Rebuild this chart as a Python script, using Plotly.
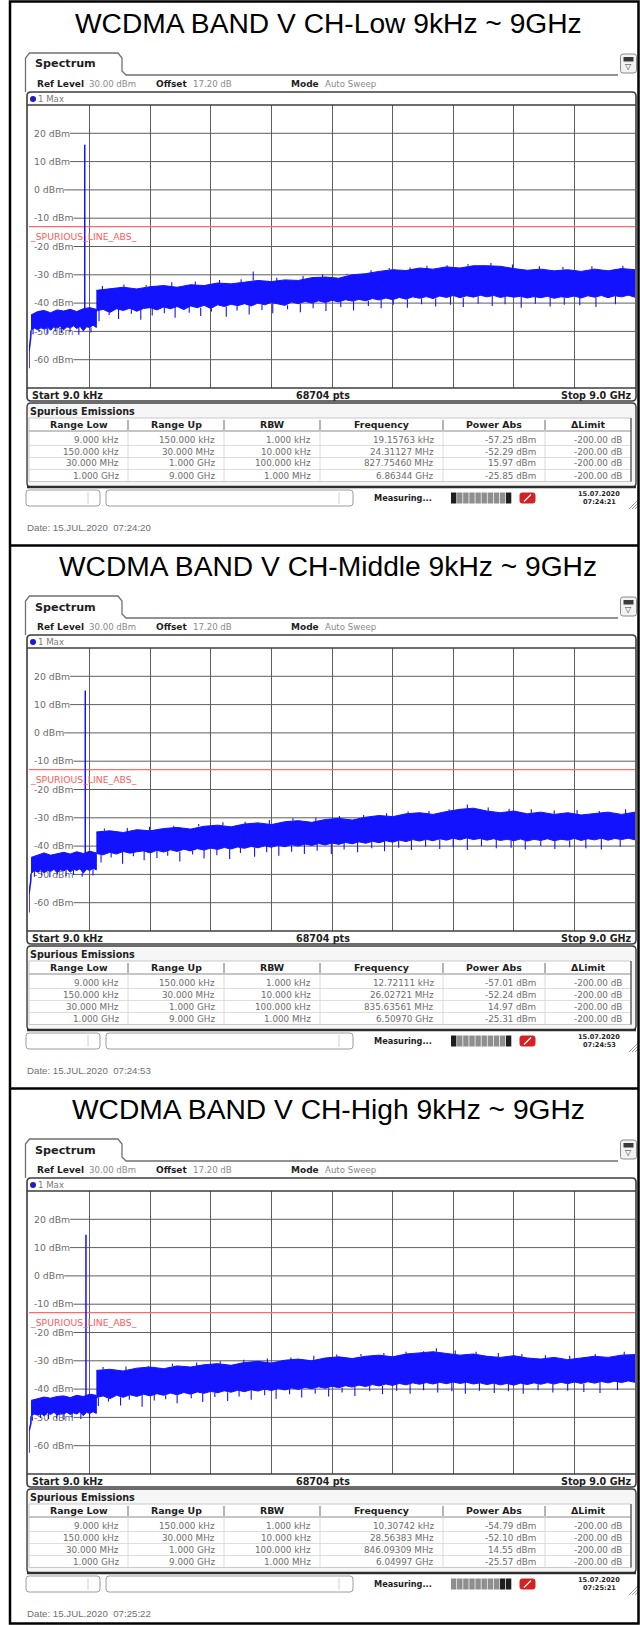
import plotly.graph_objects as go

W, H = 640, 1625

# ---------------- values ----------------
panel_titles = ["WCDMA BAND V CH-Low 9kHz ~ 9GHz",
                "WCDMA BAND V CH-Middle 9kHz ~ 9GHz",
                "WCDMA BAND V CH-High 9kHz ~ 9GHz"]

start_ghz = 0.000009
stop_ghz = 9.0
ref_level_dbm = 30.0
bottom_dbm = -70.0
y_tick_dbm = [20, 10, 0, -10, -20, -30, -40, -50, -60]
limit_dbm = -13.0
limit_label = "_SPURIOUS_LINE_ABS_"

ref_level_text = "30.00 dBm"
offset_text = "17.20 dB"
mode_text = "Auto Sweep"
trace_label = "1 Max"
start_label = "Start 9.0 kHz"
stop_label = "Stop 9.0 GHz"
points_label = "68704 pts"

table_headers = ["Range Low", "Range Up", "RBW", "Frequency", "Power Abs", "\u0394Limit"]
range_low = ["9.000 kHz", "150.000 kHz", "30.000 MHz", "1.000 GHz"]
range_up = ["150.000 kHz", "30.000 MHz", "1.000 GHz", "9.000 GHz"]
rbw_values = ["1.000 kHz", "10.000 kHz", "100.000 kHz", "1.000 MHz"]
delta_limit = ["-200.00 dB", "-200.00 dB", "-200.00 dB", "-200.00 dB"]
freq_units = ["kHz", "MHz", "MHz", "GHz"]

# peak list (GHz, dBm) per range
peak_ghz_low = [0.00001915763, 0.02431127, 0.82775460, 6.86344]
peak_dbm_low = [-57.25, -52.29, 15.97, -25.85]
peak_ghz_mid = [0.00001272111, 0.02602721, 0.83563561, 6.50970]
peak_dbm_mid = [-57.01, -52.24, 14.97, -25.31]
peak_ghz_high = [0.00001030742, 0.02856383, 0.84609309, 6.04997]
peak_dbm_high = [-54.79, -52.10, 14.55, -25.57]

edge_floor_dbm = [-63.0, -63.5, -62.5]

# noise band 30 MHz .. 1 GHz (upper / lower envelope, dBm)
band1_upper_low = [-44.2, -43.0, -42.6, -43.4, -42.4, -42.8, -42.2, -43.0, -42.0, -41.6, -42.2]
band1_lower_low = [-49.6, -48.8, -49.4, -48.6, -49.2, -48.4, -49.6, -48.4, -48.8, -48.2, -49.4,
                   -48.4, -48.8, -48.0, -49.0, -48.2, -49.8, -48.4, -48.6, -47.8, -48.6]
band1_upper_mid = [-44.0, -43.2, -42.4, -43.2, -42.6, -42.2, -42.8, -42.0, -42.6, -41.8, -42.4]
band1_lower_mid = [-49.8, -48.6, -49.2, -48.4, -49.4, -48.6, -49.0, -48.2, -49.4, -48.4, -48.8,
                   -48.0, -49.2, -48.2, -48.6, -48.0, -49.6, -48.2, -48.6, -47.8, -48.4]
band1_upper_high = [-44.0, -43.4, -42.8, -43.2, -42.6, -42.4, -43.0, -42.2, -42.6, -41.8, -42.2]
band1_lower_high = [-49.6, -48.8, -49.2, -48.6, -49.4, -48.4, -49.0, -48.2, -49.2, -48.6, -48.8,
                    -48.2, -49.0, -48.4, -48.8, -48.0, -49.4, -48.2, -48.6, -48.0, -48.6]
# hairline dips below the 30 MHz .. 1 GHz band
dip1_ghz_low = [0.06, 0.15, 0.27, 0.39, 0.48, 0.61, 0.74, 0.92]
dip1_dbm_low = [-51.0, -50.2, -50.8, -50.0, -50.6, -50.2, -51.2, -50.4]
dip1_ghz_mid = [0.08, 0.19, 0.31, 0.42, 0.55, 0.66, 0.79, 0.95]
dip1_dbm_mid = [-50.8, -50.4, -51.0, -50.0, -50.6, -50.2, -50.8, -50.4]
dip1_ghz_high = [0.05, 0.17, 0.29, 0.41, 0.52, 0.64, 0.77, 0.9]
dip1_dbm_high = [-51.2, -50.2, -50.6, -50.4, -50.8, -50.0, -50.6, -50.2]

# noise band 1 GHz .. 9 GHz (upper / dense lower envelope, dBm)
band2_upper_low = [-35.5, -35.0, -34.4, -35.0, -34.2, -33.8, -34.4, -33.5, -33.8, -32.9,
                   -33.2, -32.6, -32.0, -32.4, -31.8, -32.0, -31.0, -30.8, -31.2, -30.0,
                   -29.6, -28.8, -28.2, -28.5, -27.6, -28.0, -27.2, -27.6, -26.8, -26.8,
                   -27.0, -27.8, -28.4, -28.0, -28.6, -28.2, -28.8, -28.0, -28.6, -27.8, -28.2]
band2_lower_low = [-42.8, -42.2, -43.3, -42.0, -42.6, -41.8, -42.9, -41.9, -41.6, -42.4,
                   -41.4, -42.0, -41.2, -42.3, -41.0, -41.6, -40.8, -41.9, -40.6, -41.2,
                   -40.4, -40.9, -40.2, -41.0, -40.0, -40.6, -39.8, -40.3, -40.8, -39.6,
                   -40.2, -39.4, -40.0, -39.2, -39.8, -39.0, -39.6, -38.8, -39.3, -38.7,
                   -39.2, -38.4, -38.9, -38.2, -38.8, -38.0, -38.6, -37.8, -38.3, -37.7,
                   -38.4, -37.5, -38.0, -37.3, -38.1, -37.4, -37.9, -37.2, -37.8, -37.3,
                   -38.0, -37.5, -37.9, -37.6, -38.2, -37.7, -38.1, -37.6, -38.3, -37.8,
                   -38.0, -37.5, -38.2, -37.4, -37.9, -37.3, -38.1, -37.4, -37.8, -37.2, -37.9]
band2_upper_mid = [-35.0, -34.6, -35.2, -34.2, -34.6, -33.8, -33.4, -34.0, -33.0, -32.6,
                   -33.2, -32.2, -31.8, -32.4, -31.4, -31.0, -31.6, -30.6, -30.2, -30.8,
                   -29.8, -29.2, -29.6, -28.6, -28.2, -28.8, -27.8, -27.0, -26.6, -27.6,
                   -28.2, -27.6, -28.6, -28.0, -28.8, -28.2, -29.0, -28.4, -28.0, -28.8, -28.0]
band2_lower_mid = [-42.6, -43.1, -42.2, -42.8, -41.9, -42.5, -42.0, -41.7, -42.4, -41.5,
                   -42.1, -41.3, -41.9, -41.1, -41.7, -40.9, -41.4, -40.7, -41.2, -40.5,
                   -41.0, -40.3, -40.8, -40.1, -40.6, -39.9, -40.4, -39.7, -40.2, -39.5,
                   -40.0, -39.3, -39.8, -39.1, -39.6, -38.9, -39.4, -38.7, -39.2, -38.5,
                   -39.0, -38.3, -38.8, -38.1, -38.6, -37.9, -38.4, -37.7, -38.2, -37.6,
                   -38.1, -37.4, -37.9, -37.2, -37.8, -37.1, -37.7, -37.3, -37.9, -37.4,
                   -38.0, -37.6, -38.1, -37.5, -38.2, -37.6, -38.0, -37.4, -38.1, -37.6,
                   -37.9, -37.3, -38.0, -37.4, -37.8, -37.2, -37.9, -37.3, -37.7, -37.2, -37.8]
band2_upper_high = [-33.4, -33.0, -33.6, -32.6, -32.2, -32.8, -31.8, -32.2, -31.4, -31.0,
                    -31.6, -30.6, -30.2, -30.8, -29.8, -29.4, -30.0, -29.0, -28.6, -29.2,
                    -28.4, -28.0, -28.6, -27.6, -27.2, -26.8, -27.4, -28.0, -27.6, -28.4,
                    -28.8, -28.2, -29.0, -29.4, -28.8, -29.6, -29.0, -28.4, -28.8, -28.0, -27.8]
band2_lower_high = [-43.0, -42.4, -43.4, -42.2, -42.9, -42.0, -42.6, -41.8, -42.4, -41.6,
                    -42.2, -41.4, -42.0, -41.2, -41.8, -41.0, -41.5, -40.8, -41.3, -40.6,
                    -41.1, -40.4, -40.9, -40.2, -40.7, -40.0, -40.5, -39.8, -40.3, -39.6,
                    -40.1, -39.4, -39.9, -39.2, -39.7, -39.0, -39.5, -38.8, -39.3, -38.6,
                    -39.1, -38.4, -38.9, -38.2, -38.7, -38.0, -38.5, -37.8, -38.3, -37.7,
                    -38.2, -37.6, -38.1, -37.5, -38.0, -37.6, -38.2, -37.8, -38.4, -37.9,
                    -38.5, -38.0, -38.6, -37.9, -38.4, -37.8, -38.3, -37.7, -38.2, -37.6,
                    -38.1, -37.5, -38.0, -37.4, -37.9, -37.3, -37.8, -37.2, -37.7, -37.1, -37.6]

# hairline dips hanging below the 1 .. 9 GHz band
dip2_ghz_low = [1.04, 1.19, 1.33, 1.52, 1.66, 1.83, 2.01, 2.17, 2.38, 2.55, 2.71, 2.93, 3.09, 3.27,
                3.46, 3.62, 3.84, 4.03, 4.22, 4.41, 4.63, 4.82, 5.04, 5.23, 5.41, 5.62, 5.83, 6.04,
                6.26, 6.45, 6.67, 6.88, 7.07, 7.31, 7.52, 7.74, 7.95, 8.18, 8.42, 8.71]
dip2_dbm_low = [-46.4, -44.2, -45.6, -43.8, -45.9, -44.4, -43.6, -45.2, -43.4, -44.6, -43.0, -44.8,
                -42.6, -44.0, -42.4, -43.6, -42.2, -43.2, -41.8, -42.8, -41.4, -42.6, -41.0, -41.8,
                -40.6, -41.6, -40.4, -41.2, -40.6, -41.4, -40.2, -41.0, -40.4, -41.6, -40.2, -41.2,
                -40.6, -40.8, -41.4, -40.4]
dip2_ghz_mid = [1.07, 1.22, 1.39, 1.55, 1.71, 1.9, 2.06, 2.24, 2.43, 2.6, 2.79, 2.98, 3.14, 3.35,
                3.53, 3.71, 3.9, 4.09, 4.28, 4.49, 4.68, 4.88, 5.09, 5.28, 5.49, 5.68, 5.89, 6.1,
                6.3, 6.51, 6.72, 6.94, 7.16, 7.37, 7.6, 7.81, 8.03, 8.27, 8.5, 8.78]
dip2_dbm_mid = [-45.8, -44.0, -46.2, -43.6, -45.0, -44.2, -43.4, -45.4, -43.0, -44.4, -43.2, -44.6,
                -42.4, -43.8, -42.2, -43.4, -42.0, -42.8, -41.6, -42.8, -41.2, -42.2, -40.8, -41.8,
                -40.6, -41.4, -40.2, -41.0, -40.4, -41.4, -40.0, -40.8, -40.6, -41.2, -40.0, -41.0,
                -40.4, -40.8, -41.2, -40.2]
dip2_ghz_high = [1.03, 1.18, 1.36, 1.49, 1.68, 1.86, 2.03, 2.2, 2.41, 2.58, 2.76, 2.95, 3.12, 3.3,
                 3.5, 3.67, 3.87, 4.05, 4.25, 4.45, 4.65, 4.84, 5.06, 5.25, 5.46, 5.66, 5.86, 6.07,
                 6.28, 6.48, 6.69, 6.91, 7.12, 7.34, 7.56, 7.78, 8.0, 8.24, 8.48, 8.74]
dip2_dbm_high = [-46.0, -44.4, -45.8, -43.8, -46.2, -44.0, -43.6, -45.0, -43.2, -44.6, -42.8, -44.2,
                 -42.6, -43.8, -42.2, -43.4, -41.8, -43.0, -41.6, -42.6, -41.2, -42.4, -40.8, -41.8,
                 -40.6, -41.6, -40.4, -41.2, -40.8, -41.6, -40.6, -41.4, -40.8, -41.6, -40.4, -41.2,
                 -40.6, -41.0, -41.4, -40.4]

# hairline peaks rising above the 1 .. 9 GHz band
up2_ghz_low = [1.09, 1.41, 1.74, 2.12, 2.47, 2.83, 3.15, 3.33, 3.68, 4.07, 4.36, 4.72, 5.08, 5.35,
               5.66, 5.91, 6.21, 6.52, 6.86, 7.18, 7.58, 7.93, 8.36, 8.82]
up2_dbm_low = [-34.0, -33.4, -33.6, -32.6, -32.4, -31.8, -31.6, -28.8, -31.0, -30.4, -29.8, -29.6,
               -28.4, -27.6, -27.4, -26.8, -26.6, -26.2, -25.85, -26.4, -27.0, -27.2, -27.0, -26.8]
up2_ghz_mid = [1.12, 1.46, 1.79, 2.15, 2.52, 2.88, 3.21, 3.57, 3.92, 4.26, 4.61, 4.97, 5.31, 5.63,
               5.94, 6.24, 6.51, 6.82, 7.13, 7.46, 7.8, 8.14, 8.47, 8.86]
up2_dbm_mid = [-33.8, -33.6, -33.2, -32.8, -32.2, -31.6, -31.4, -30.8, -30.2, -30.0, -29.4, -29.0,
               -28.4, -27.8, -27.6, -27.0, -25.31, -26.4, -26.8, -27.0, -27.4, -27.2, -27.6, -27.0]
up2_ghz_high = [1.1, 1.44, 1.77, 2.13, 2.49, 2.84, 3.19, 3.54, 3.89, 4.23, 4.57, 4.93, 5.27, 5.6,
                5.86, 6.05, 6.33, 6.64, 6.97, 7.32, 7.67, 8.03, 8.41, 8.84]
up2_dbm_high = [-32.2, -32.0, -31.8, -31.0, -30.6, -30.2, -29.6, -29.2, -28.8, -28.2, -27.8, -27.6,
                -27.2, -26.8, -26.6, -25.57, -26.4, -26.8, -27.2, -27.6, -28.0, -28.2, -27.6, -26.8]

status_date = "15.07.2020"
status_time = ["07:24:21", "07:24:53", "07:25:21"]
capture_date = ["15.JUL.2020\u00a0\u00a007:24:20", "15.JUL.2020\u00a0\u00a007:24:53",
                "15.JUL.2020\u00a0\u00a007:25:22"]
progress_dark = [[0, 9], [0, 9], [8, 9]]

panels = [
    dict(peak_ghz=peak_ghz_low, peak_dbm=peak_dbm_low, b1u=band1_upper_low, b1l=band1_lower_low,
         d1f=dip1_ghz_low, d1v=dip1_dbm_low, b2u=band2_upper_low, b2l=band2_lower_low,
         d2f=dip2_ghz_low, d2v=dip2_dbm_low, u2f=up2_ghz_low, u2v=up2_dbm_low),
    dict(peak_ghz=peak_ghz_mid, peak_dbm=peak_dbm_mid, b1u=band1_upper_mid, b1l=band1_lower_mid,
         d1f=dip1_ghz_mid, d1v=dip1_dbm_mid, b2u=band2_upper_mid, b2l=band2_lower_mid,
         d2f=dip2_ghz_mid, d2v=dip2_dbm_mid, u2f=up2_ghz_mid, u2v=up2_dbm_mid),
    dict(peak_ghz=peak_ghz_high, peak_dbm=peak_dbm_high, b1u=band1_upper_high, b1l=band1_lower_high,
         d1f=dip1_ghz_high, d1v=dip1_dbm_high, b2u=band2_upper_high, b2l=band2_lower_high,
         d2f=dip2_ghz_high, d2v=dip2_dbm_high, u2f=up2_ghz_high, u2v=up2_dbm_high),
]

# ---------------- layout geometry (pixels) ----------------
OFFSETS = [0, 543, 1086]
GRID_L, GRID_R = 29.0, 635.0
GRID_T, GRID_B = 105.0, 388.0
TRACE_BLUE = "#1212ff"
GRID_COL = "#5e5e5e"
FRAME_COL = "#3c3c3c"
FONT = "DejaVu Sans"
TITLE_FONT = "Liberation Sans"
BORDER_L, BORDER_R = 10.0, 638.5

def X(px):
    return px / W

def Y(py):
    return 1 - py / H

shapes, annos = [], []

def text(x, y, s, size=9, color="#222222", bold=False, xanchor="left", family=FONT):
    annos.append(dict(x=X(x), y=Y(y), xref="paper", yref="paper", showarrow=False,
                      text=f"<b>{s}</b>" if bold else s, xanchor=xanchor, yanchor="middle",
                      font=dict(size=size, color=color, family=family), borderpad=0))

def line(x0, y0, x1, y1, color, width=1.0):
    shapes.append(dict(type="line", xref="paper", yref="paper", x0=X(x0), y0=Y(y0),
                       x1=X(x1), y1=Y(y1), line=dict(color=color, width=width)))

def rect(x0, y0, x1, y1, color=None, width=1.0, fill=None):
    shapes.append(dict(type="rect", xref="paper", yref="paper", x0=X(x0), y0=Y(y0),
                       x1=X(x1), y1=Y(y1), fillcolor=fill or "rgba(0,0,0,0)",
                       line=dict(color=color or "rgba(0,0,0,0)", width=width if color else 0)))

def rrect(x0, y0, x1, y1, r, color, width=1.0, fill=None):
    p = (f"M{X(x0 + r)},{Y(y0)} L{X(x1 - r)},{Y(y0)} Q{X(x1)},{Y(y0)} {X(x1)},{Y(y0 + r)} "
         f"L{X(x1)},{Y(y1 - r)} Q{X(x1)},{Y(y1)} {X(x1 - r)},{Y(y1)} L{X(x0 + r)},{Y(y1)} "
         f"Q{X(x0)},{Y(y1)} {X(x0)},{Y(y1 - r)} L{X(x0)},{Y(y0 + r)} Q{X(x0)},{Y(y0)} {X(x0 + r)},{Y(y0)} Z")
    shapes.append(dict(type="path", xref="paper", yref="paper", path=p,
                       fillcolor=fill or "rgba(0,0,0,0)", line=dict(color=color, width=width)))

def path(points, color, width=1.0):
    d = "M" + " L".join(f"{X(a)},{Y(b)}" for a, b in points)
    shapes.append(dict(type="path", xref="paper", yref="paper", path=d,
                       line=dict(color=color, width=width)))

# approximate DejaVu Sans advance widths (em) for the level labels
CW = {"-": 0.361, " ": 0.318, "d": 0.635, "B": 0.686, "m": 0.974}
LABEL_SIZE = 9.3

def fmt_freq(v_ghz, unit):
    scale = {"kHz": 1e6, "MHz": 1e3, "GHz": 1.0}[unit]
    return f"{v_ghz * scale:.5f} {unit}"

def spread(a, b, n):
    return [a + (b - a) * i / (n - 1) for i in range(n)]

def nearest(vals, f0, f1, f):
    i = int(round((f - f0) / (f1 - f0) * (len(vals) - 1)))
    return vals[max(0, min(len(vals) - 1, i))]

def hairlines(freqs, tips, env, f0, f1):
    xs, ys = [], []
    for f, t in zip(freqs, tips):
        xs += [f, f, None]
        ys += [nearest(env, f0, f1, f), t, None]
    return xs, ys

fig = go.Figure()
layout_axes = {}

for k, (o, pdat) in enumerate(zip(OFFSETS, panels)):
    sfx = "" if k == 0 else str(k + 1)
    xa, ya = "x" + sfx, "y" + sfx

    # ---- traces ----
    fig.add_trace(go.Scatter(x=[start_ghz, stop_ghz], y=[limit_dbm, limit_dbm], mode="lines",
                             line=dict(color="#ff6b6b", width=1.2), xaxis=xa, yaxis=ya,
                             hoverinfo="skip"))
    # 9 kHz .. 30 MHz collapses onto the left edge
    fig.add_trace(go.Scatter(x=[start_ghz, pdat["peak_ghz"][0], pdat["peak_ghz"][1], 0.03],
                             y=[edge_floor_dbm[k], pdat["peak_dbm"][0], pdat["peak_dbm"][1],
                                pdat["b1l"][0]],
                             mode="lines", line=dict(color=TRACE_BLUE, width=1.6),
                             xaxis=xa, yaxis=ya, hoverinfo="skip"))
    for up, lo, f0, f1 in [(pdat["b1u"], pdat["b1l"], 0.03, 1.0), (pdat["b2u"], pdat["b2l"], 1.0, 9.0)]:
        xu = spread(f0, f1, len(up))
        xl = spread(f0, f1, len(lo))
        fig.add_trace(go.Scatter(x=xu + xl[::-1], y=up + lo[::-1], mode="lines", fill="toself",
                                 fillcolor=TRACE_BLUE, line=dict(color=TRACE_BLUE, width=1),
                                 xaxis=xa, yaxis=ya, hoverinfo="skip"))
    hx, hy = [], []
    for fr, tp, env, f0, f1 in [(pdat["d1f"], pdat["d1v"], pdat["b1l"], 0.03, 1.0),
                                (pdat["d2f"], pdat["d2v"], pdat["b2l"], 1.0, 9.0),
                                (pdat["u2f"], pdat["u2v"], pdat["b2u"], 1.0, 9.0)]:
        a, b = hairlines(fr, tp, env, f0, f1)
        hx += a
        hy += b
    fig.add_trace(go.Scatter(x=hx, y=hy, mode="lines", line=dict(color=TRACE_BLUE, width=1.1),
                             connectgaps=False, xaxis=xa, yaxis=ya, hoverinfo="skip"))
    fig.add_trace(go.Scatter(x=[pdat["peak_ghz"][2]] * 2, y=[pdat["b1u"][-3], pdat["peak_dbm"][2]],
                             mode="lines", line=dict(color=TRACE_BLUE, width=1.5),
                             xaxis=xa, yaxis=ya, hoverinfo="skip"))

    # ---- axes ----
    layout_axes["xaxis" + sfx] = dict(
        domain=[X(GRID_L), X(GRID_R)], range=[start_ghz, stop_ghz], tickmode="array",
        tickvals=[start_ghz + i * (stop_ghz - start_ghz) / 10 for i in range(1, 10)],
        showticklabels=False, ticks="", showgrid=True, gridcolor=GRID_COL, gridwidth=1,
        zeroline=False, showline=False, anchor=ya, fixedrange=True)
    layout_axes["yaxis" + sfx] = dict(
        domain=[Y(o + GRID_B), Y(o + GRID_T)], range=[bottom_dbm, ref_level_dbm],
        tickmode="array", tickvals=y_tick_dbm, ticktext=[f"{v} dBm" for v in y_tick_dbm],
        ticklabelposition="inside", ticks="", ticklabelstandoff=2, showgrid=False,
        zeroline=False, showline=False, layer="below traces", anchor=xa, fixedrange=True,
        tickfont=dict(family=FONT, size=LABEL_SIZE, color="#6c6c6c"))
    for v in y_tick_dbm:
        lab = f"{v} dBm"
        wpx = sum(CW.get(c, 0.636) for c in lab) * LABEL_SIZE
        shapes.append(dict(type="line", xref=f"{xa} domain", yref=ya,
                           x0=(wpx + 5) / (GRID_R - GRID_L), x1=1, y0=v, y1=v, layer="below",
                           line=dict(color=GRID_COL, width=1)))
    annos.append(dict(x=0.0, y=limit_dbm - 1.2, xref=f"{xa} domain", yref=ya, showarrow=False,
                      text=limit_label, xanchor="left", yanchor="top", borderpad=0,
                      font=dict(size=9.3, color="#ff5c5c", family=FONT)))

    # ---- title ----
    text(328, o + 23, panel_titles[k], size=28.2, color="#000000", xanchor="center", family=TITLE_FONT)

    # ---- window tab ----
    path([(25.5, o + 92), (25.5, o + 58), (29.5, o + 53), (118, o + 53), (122, o + 58), (122, o + 71),
          (126, o + 75), (618, o + 75)], "#707070", 1.3)
    text(33.5, o + 64, "Spectrum", size=11.2, bold=True, color="#1e1e1e")
    rrect(620.5, o + 54, 636.5, o + 73, 2.5, "#8a8a8a", 1, fill="#f2f2f2")
    rect(623.5, o + 57, 633.5, o + 61.5, fill="#3a3a3a")
    text(628.5, o + 66.5, "\u25bd", size=8, color="#3a3a3a", xanchor="center")

    # ---- info line ----
    text(35.5, o + 84, "Ref Level", size=9, bold=True, color="#1e1e1e")
    text(87.5, o + 84, ref_level_text, size=8.6, color="#8a8a8a")
    text(154.5, o + 84, "Offset", size=9, bold=True, color="#1e1e1e")
    text(191.5, o + 84, offset_text, size=8.6, color="#8a8a8a")
    text(289.5, o + 84, "Mode", size=9, bold=True, color="#1e1e1e")
    text(324, o + 84, mode_text, size=8.6, color="#8a8a8a")

    # ---- diagram frame ----
    rrect(27, o + 92, 636, o + 401, 4, FRAME_COL, 1.6)
    line(27, o + GRID_T, 636, o + GRID_T, FRAME_COL, 1.3)
    line(27, o + GRID_B, 636, o + GRID_B, FRAME_COL, 1.3)
    shapes.append(dict(type="circle", xref="paper", yref="paper", x0=X(30), x1=X(36),
                       y0=Y(o + 96), y1=Y(o + 102), fillcolor="#1c1cc8", line=dict(width=0)))
    text(36.5, o + 99, trace_label, size=8.6, color="#7a7a7a")
    text(31, o + 395, start_label, size=9.6, bold=True, color="#1e1e1e")
    text(323, o + 395, points_label, size=9.6, bold=True, color="#1e1e1e", xanchor="center")
    text(632.5, o + 395, stop_label, size=9.6, bold=True, color="#1e1e1e", xanchor="right")

    # ---- spurious emissions table ----
    rrect(27, o + 403, 636, o + 487, 4, FRAME_COL, 1.4, fill="#f6f6f6")
    line(27, o + 487, 636, o + 487, "#2e2e2e", 2.4)
    text(28.5, o + 411, "Spurious Emissions", size=9.6, bold=True, color="#1e1e1e")
    bounds = [29, 128, 224, 320, 443, 545, 631]
    hdr_t, hdr_b = o + 418, o + 431
    rows_t = hdr_b + 2.5
    row_h = 12.0
    rect(29, hdr_t, 631, rows_t + 4 * row_h, "#bdbdbd", 0.8, fill="#ffffff")
    line(29, hdr_b, 631, hdr_b, "#8a8a8a", 1)
    for r in range(1, 4):
        line(29, rows_t + r * row_h, 631, rows_t + r * row_h, "#d4d4d4", 0.8)
    for bx in bounds[1:-1]:
        line(bx, hdr_t + 2, bx, hdr_b - 1, "#6a6a6a", 1)
        line(bx, hdr_b, bx, rows_t + 4 * row_h, "#d0d0d0", 0.8)
    line(631, hdr_t, 631, rows_t + 4 * row_h, "#4a4a4a", 1.2)
    for c, h in enumerate(table_headers):
        text((bounds[c] + bounds[c + 1]) / 2, hdr_t + 6.5, h, size=9.4, bold=True,
             color="#1e1e1e", xanchor="center")
    cols = [range_low, range_up, rbw_values,
            [fmt_freq(g, u) for g, u in zip(pdat["peak_ghz"], freq_units)],
            [f"{p:.2f} dBm" for p in pdat["peak_dbm"]], delta_limit]
    for c, vals in enumerate(cols):
        for r, v in enumerate(vals):
            text(bounds[c + 1] - 8, rows_t + (r + 0.5) * row_h, v, size=8.8, color="#6e6e6e",
                 xanchor="right")

    # ---- status bar ----
    sb_t, sb_b = o + 490, o + 506
    rrect(26, sb_t, 100, sb_b, 3, "#9c9c9c", 1, fill="#ffffff")
    line(88, sb_t + 2, 88, sb_b - 2, "#d0d0d0", 1)
    rrect(106, sb_t, 353, sb_b, 3, "#9c9c9c", 1, fill="#ffffff")
    line(339, sb_t + 2, 339, sb_b - 2, "#d0d0d0", 1)
    text(373, o + 498, "Measuring...", size=8.2, bold=True, color="#1e1e1e")
    for s_i in range(10):
        x0 = 451 + s_i * 6.1
        col = "#1e1e1e" if s_i in progress_dark[k] else "#8e8e8e"
        rect(x0, o + 492.5, x0 + 5.4, o + 503.5, fill=col)
    rrect(520, o + 493, 535, o + 503, 2, "#d42222", 1, fill="#d42222")
    line(524, o + 501.5, 531, o + 494.5, "#ffffff", 1.2)
    text(599, o + 494, status_date, size=6.6, bold=True, color="#1e1e1e", xanchor="center")
    text(599, o + 502, status_time[k], size=6.6, bold=True, color="#1e1e1e", xanchor="center")
    for g in range(3):
        line(629 + g * 3, o + 509, 638, o + 500 + g * 3, "#9a9a9a", 1)

    # ---- capture date ----
    text(26, o + 527, "Date: " + capture_date[k], size=9.7, color="#707070", family=TITLE_FONT)

# ---- outer border and separators ----
rect(BORDER_L, 1.5, BORDER_R, 1623.5, "#000000", 2.5)
line(BORDER_L, 545.5, BORDER_R, 545.5, "#000000", 2.5)
line(BORDER_L, 1088.5, BORDER_R, 1088.5, "#000000", 2.5)

fig.update_layout(width=W, height=H, margin=dict(l=0, r=0, t=0, b=0, pad=0),
                  paper_bgcolor="#ffffff", plot_bgcolor="rgba(0,0,0,0)", showlegend=False,
                  font=dict(family=FONT), shapes=shapes, annotations=annos, **layout_axes)

fig.write_html("out.html", config={"displayModeBar": False, "staticPlot": True},
               post_script="document.body.style.margin='0px';")
